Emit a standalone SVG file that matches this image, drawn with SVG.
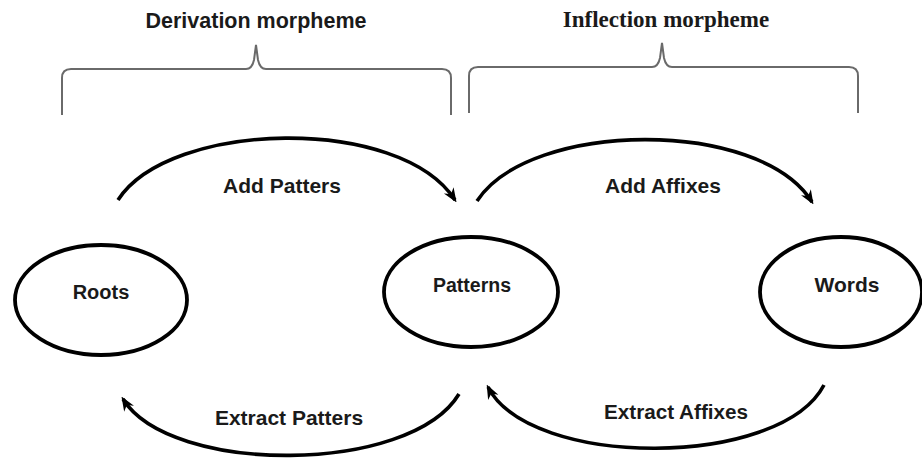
<svg xmlns="http://www.w3.org/2000/svg" width="922" height="460" viewBox="0 0 922 460">
<style>
.lbl{font-family:"Liberation Sans",Arial,sans-serif;font-weight:bold;fill:#1a1a1a;text-anchor:middle}
.serif{font-family:"Liberation Serif","Times New Roman",serif;font-weight:bold;fill:#1a1a1a;text-anchor:middle}
.node{fill:#fff;stroke:#000;stroke-width:3.8}
.brace{fill:none;stroke:#6a6a6a;stroke-width:2}
.arc{fill:none;stroke:#000;stroke-width:3.6}
</style>
<defs>
<marker id="ah" viewBox="0 0 10 10" refX="8" refY="5" markerWidth="4" markerHeight="4" orient="auto" markerUnits="strokeWidth">
<path d="M0,1 L10,5 L0,9 L3,5 Z" fill="#000"/>
</marker>
</defs>
<rect width="922" height="460" fill="#fff"/>
<g id="derivation">
<text class="lbl" x="256" y="28" font-size="21.5">Derivation morpheme</text>
<path class="brace" d="M62,115 L62,78 Q62,69 71,69 L246,69 Q252,69 254,60 L256,45 L258,60 Q260,69 266,69 L442,69 Q451,69 451,78 L451,115"/>
</g>
<g id="inflection">
<text class="serif" x="666" y="27" font-size="23">Inflection morpheme</text>
<path class="brace" d="M469,113 L469,76 Q469,67 478,67 L652,67 Q658,67 660,58 L662,43 L664,58 Q666,67 672,67 L849,67 Q858,67 858,76 L858,113"/>
</g>
<g id="roots">
<ellipse class="node" cx="101" cy="300" rx="86" ry="55"/>
<text class="lbl" x="101" y="299" font-size="20">Roots</text>
</g>
<g id="patterns">
<ellipse class="node" cx="471" cy="292" rx="87" ry="55"/>
<text class="lbl" x="472" y="292" font-size="19.5">Patterns</text>
</g>
<g id="words">
<ellipse class="node" cx="841" cy="292" rx="81" ry="55"/>
<text class="lbl" x="847" y="292" font-size="21">Words</text>
</g>
<g id="connectors">
<path class="arc" d="M118,200 C170,120 400,115 455,200" marker-end="url(#ah)"/>
<text class="lbl" x="282" y="193" font-size="21">Add Patters</text>
<path class="arc" d="M477,201 C530,120 760,118 812,202" marker-end="url(#ah)"/>
<text class="lbl" x="663" y="193" font-size="21">Add Affixes</text>
<path class="arc" d="M459,394 C410,475 170,475 123,399" marker-end="url(#ah)"/>
<text class="lbl" x="289" y="425" font-size="21">Extract Patters</text>
<path class="arc" d="M824,385 C780,469 530,469 488,387" marker-end="url(#ah)"/>
<text class="lbl" x="676" y="419" font-size="20.7">Extract Affixes</text>
</g>
</svg>
